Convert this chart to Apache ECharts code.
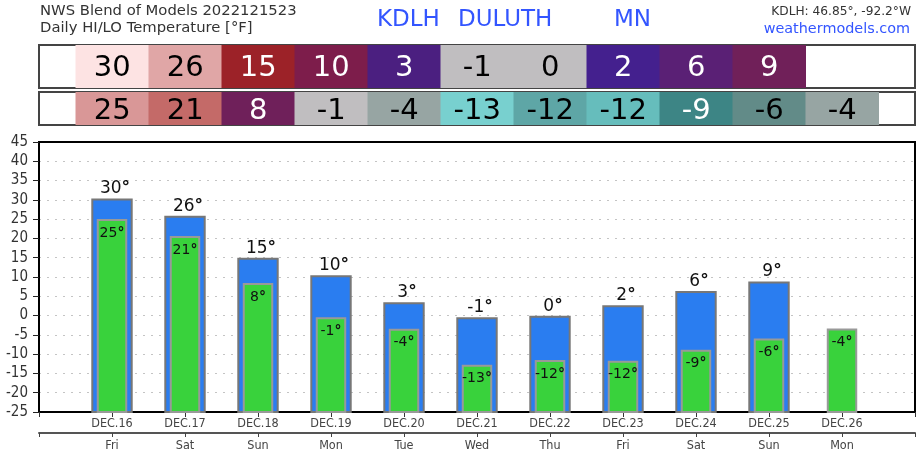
<!DOCTYPE html>
<html>
<head>
<meta charset="utf-8">
<style>
html, body { margin: 0; padding: 0; background: #fff; }
#main { width: 924px; height: 459px; }
</style>
<script src="https://cdn.jsdelivr.net/npm/echarts@6/dist/echarts.min.js"></script>
</head>
<body>
<div id="main"></div>
<script>
// blank entries at both ends leave the empty first and last slots of the plot
const dates = ['', 'DEC.16', 'DEC.17', 'DEC.18', 'DEC.19', 'DEC.20', 'DEC.21', 'DEC.22', 'DEC.23', 'DEC.24', 'DEC.25', 'DEC.26', ''];
const weekdays = ['', 'Fri', 'Sat', 'Sun', 'Mon', 'Tue', 'Wed', 'Thu', 'Fri', 'Sat', 'Sun', 'Mon', ''];

// bar heights, labels are the rounded values printed on it
const hiValues = [30.1, 25.6, 14.7, 10.2, 3.2, -0.7, -0.3, 2.4, 6.1, 8.6];
const loValues = [24.8, 20.4, 8.2, -0.7, -3.7, -13, -11.8, -12, -9.1, -6.2, -3.6];
const hiLabels = [30, 26, 15, 10, 3, -1, 0, 2, 6, 9];
const loLabels = [25, 21, 8, -1, -4, -13, -12, -12, -9, -6, -4];

const hiColors = ['#fde3e3', '#e0a6a6', '#9c2228', '#7d1d4b', '#4b1f80', '#c0bec0', '#c0bec0', '#44208e', '#5a2075', '#702059'];
const loColors = ['#d99797', '#c46a68', '#6f205a', '#c0bec0', '#97a5a3', '#78d0cf', '#5ea6a6', '#66bdbc', '#3d8585', '#628b88', '#97a5a3'];

const FONT = 'DejaVu Sans';
const AXIS_FONT = 'DejaVu Sans Condensed';
const BLUE_TEXT = '#3355ff';

function textColor(hex) {
    const r = parseInt(hex.slice(1, 3), 16), g = parseInt(hex.slice(3, 5), 16), b = parseInt(hex.slice(5, 7), 16);
    return (0.299 * r + 0.587 * g + 0.114 * b) / 255 < 0.47 ? '#fff' : '#000';
}

// table row: one coloured cell per day with the temperature printed in it
function cellSeries(gridIndex, labels, colors, textShift) {
    return {
        type: 'custom',
        xAxisIndex: gridIndex,
        yAxisIndex: gridIndex,
        data: labels.map((v, i) => [i + 1, v]),
        renderItem: function (params, api) {
            const w = api.size([1, 0])[0];
            const a = api.coord([api.value(0), 1]);
            const b = api.coord([api.value(0), 0]);
            const color = colors[params.dataIndex];
            return {
                type: 'rect',
                shape: { x: a[0] - w / 2, y: a[1], width: w + 0.5, height: b[1] - a[1] },
                style: { fill: color },
                textContent: {
                    style: { text: String(api.value(1)), fill: textColor(color), font: '29px "' + FONT + '"' }
                },
                textConfig: { position: 'inside', offset: [0, textShift] }
            };
        }
    };
}

// plot bar: always drawn up from the bottom of the axis, not from zero
function barSeries(values, labels, opt) {
    return {
        type: 'custom',
        xAxisIndex: 0,
        yAxisIndex: 0,
        z: opt.z,
        data: values.map((v, i) => [i + 1, v, labels[i]]),
        renderItem: function (params, api) {
            const w = api.size([1, 0])[0] * opt.width;
            const top = api.coord([api.value(0), api.value(1)]);
            const bottom = api.coord([api.value(0), -25]);
            return {
                type: 'rect',
                shape: { x: top[0] - w / 2, y: top[1], width: w, height: bottom[1] - top[1] },
                style: { fill: opt.fill, stroke: opt.stroke, lineWidth: 2 },
                textContent: {
                    style: {
                        text: '{v|' + api.value(2) + '}{d|°}',
                        rich: {
                            v: { font: opt.fontSize + 'px "' + FONT + '"', fill: '#111' },
                            d: { font: 'bold ' + opt.fontSize + 'px "' + FONT + '"', fill: '#111' }
                        }
                    }
                },
                textConfig: { position: opt.labelPos, distance: opt.labelGap, offset: [opt.labelShift, 0] }
            };
        }
    };
}

function tableAxes(i) {
    return {
        x: { gridIndex: i, type: 'category', boundaryGap: false, data: dates, show: false },
        y: { gridIndex: i, type: 'value', min: 0, max: 1, show: false }
    };
}

function headerText(text, x, y, size, color, align) {
    return {
        type: 'text',
        x: x,
        y: y,
        style: { text: text, fill: color, font: size + 'px "' + FONT + '"', textAlign: align || 'left', textVerticalAlign: 'middle' }
    };
}

const chart = echarts.init(document.getElementById('main'));
const gridBox = { left: 39, width: 876, show: true, borderWidth: 2, borderColor: '#444', backgroundColor: '#fff' };

chart.setOption({
    animation: false,
    backgroundColor: '#fff',
    grid: [
        { left: 39, width: 876, top: 142, height: 270, show: true, borderWidth: 2, borderColor: '#000' },
        Object.assign({ top: 45, height: 43 }, gridBox),
        Object.assign({ top: 92, height: 33 }, gridBox)
    ],
    xAxis: [
        {
            gridIndex: 0, type: 'category', boundaryGap: false, data: dates,
            axisLine: { onZero: false, lineStyle: { color: '#000', width: 2 } },
            axisTick: { length: 5, alignWithLabel: true, lineStyle: { color: '#333' } },
            axisLabel: { interval: 0, margin: 5, fontFamily: AXIS_FONT, fontSize: 12.5, color: '#444' }
        },
        tableAxes(1).x,
        tableAxes(2).x,
        {
            gridIndex: 0, type: 'category', boundaryGap: false, data: weekdays, position: 'bottom', offset: 21,
            axisLine: { onZero: false, lineStyle: { color: '#555', width: 2 } },
            axisTick: { length: 4, lineStyle: { color: '#444' } },
            axisLabel: { interval: 0, margin: 6, fontFamily: AXIS_FONT, fontSize: 12.5, color: '#444' }
        }
    ],
    yAxis: [
        {
            gridIndex: 0, type: 'value', min: -25, max: 45, interval: 5,
            axisLine: { show: true, onZero: false, lineStyle: { color: '#000', width: 2 } },
            axisTick: { show: true, length: 6, lineStyle: { color: '#222' } },
            axisLabel: { margin: 11, fontFamily: AXIS_FONT, fontSize: 15, color: '#333' },
            splitLine: { show: true, showMinLine: false, showMaxLine: false, lineStyle: { type: [2, 6], color: '#c4c4c4', width: 1 } }
        },
        tableAxes(1).y,
        tableAxes(2).y
    ],
    series: [
        cellSeries(1, hiLabels, hiColors, 2),
        cellSeries(2, loLabels, loColors, 3),
        barSeries(hiValues, hiLabels, { z: 3, width: 0.54, fill: '#2a7df0', stroke: '#777', fontSize: 17, labelPos: 'top', labelGap: 1, labelShift: 3 }),
        barSeries(loValues, loLabels, { z: 4, width: 0.39, fill: '#39d23c', stroke: '#999', fontSize: 14, labelPos: 'insideTop', labelGap: 7, labelShift: 0 })
    ],
    graphic: [
        headerText('NWS Blend of Models 2022121523', 40, 11, 14.8, '#333'),
        headerText('Daily HI/LO Temperature [°F]', 40, 28, 14.8, '#333'),
        headerText('KDLH', 377, 20, 23, BLUE_TEXT),
        headerText('DULUTH', 458, 20, 23, BLUE_TEXT),
        headerText('MN', 614, 20, 23, BLUE_TEXT),
        headerText('KDLH: 46.85°, -92.2°W', 911, 12, 12.2, '#333', 'right'),
        headerText('weathermodels.com', 910, 29, 14.4, BLUE_TEXT, 'right')
    ]
});
</script>
</body>
</html>
